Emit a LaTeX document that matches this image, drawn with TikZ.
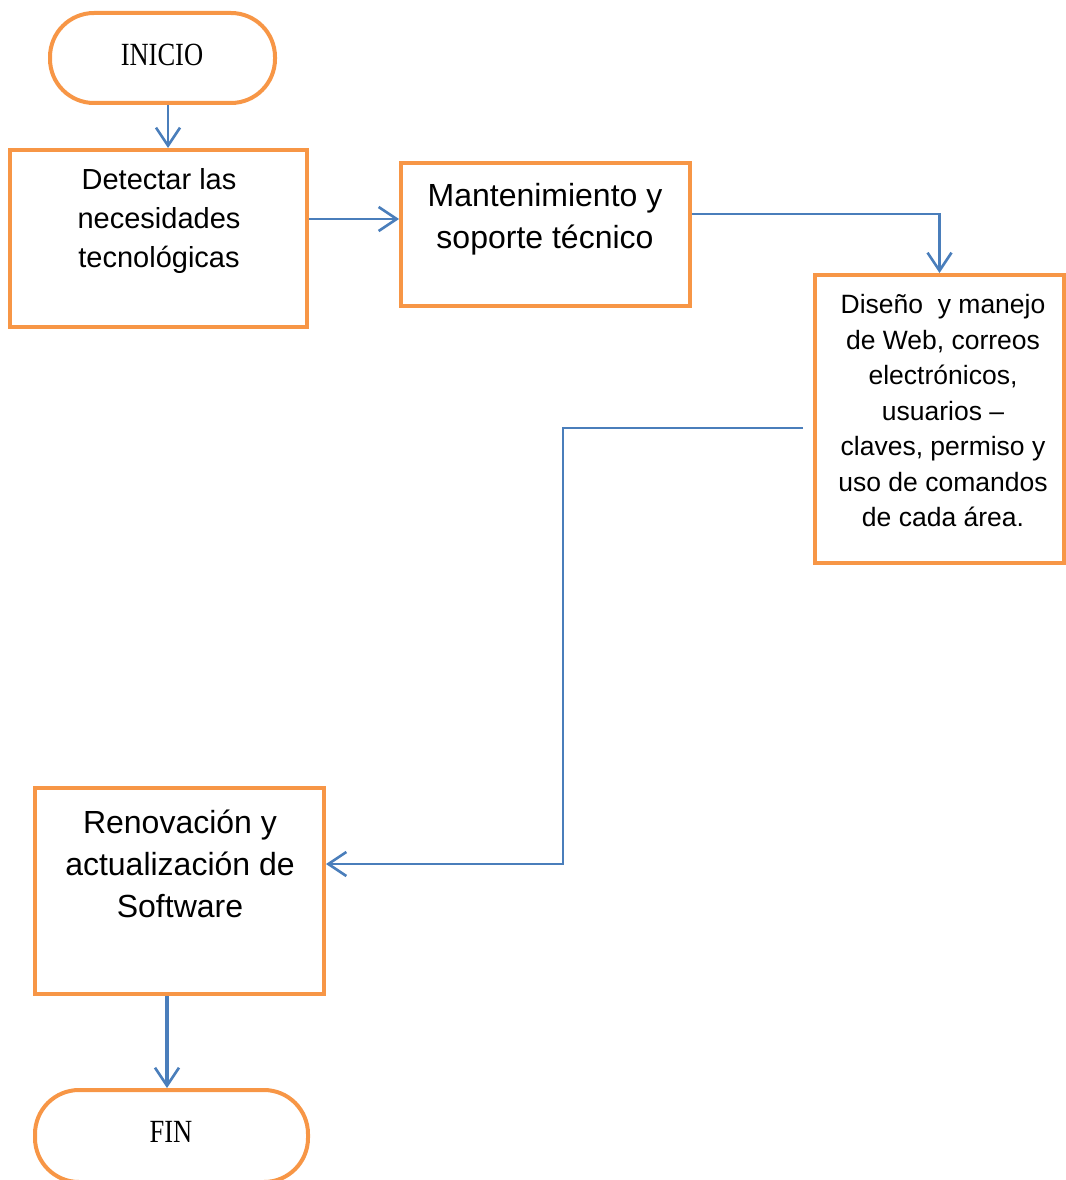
\documentclass[tikz,border=0pt]{standalone}
\usepackage{fontspec}
\setmainfont{Liberation Sans}
\newfontfamily\termfont{Liberation Serif}
\usetikzlibrary{arrows.meta}
\definecolor{boxorange}{HTML}{F79646}
\definecolor{flowblue}{HTML}{4A7EBB}
\begin{document}
\begin{tikzpicture}[x=1pt,y=-1pt,
  stepbox/.style={draw=boxorange, line width=4pt, rectangle, inner sep=0pt},
  terminal/.style={draw=boxorange, line width=4pt, rectangle, rounded corners=44pt, inner sep=0pt},
  arr/.style={draw=flowblue, line width=2.6pt, -{Straight Barb[length=18pt,width=24pt,line width=2.6pt]}},
  txt/.style={align=center, inner sep=0pt},
  termtxt/.style={inner sep=0pt, font=\termfont\fontsize{26.5}{30}\selectfont}
]
\useasboundingbox (0,0) rectangle (1065,1180);

% terminals and process boxes
\node[terminal, minimum width=225pt, minimum height=90pt] (inicio) at (162.5,58) {};
\node[stepbox, minimum width=297pt, minimum height=177pt] (detectar) at (158.5,238.5) {};
\node[stepbox, minimum width=289pt, minimum height=143pt] (mant) at (545.5,234.5) {};
\node[stepbox, minimum width=249pt, minimum height=288pt] (diseno) at (939.5,419) {};
\node[stepbox, minimum width=289pt, minimum height=206pt] (renov) at (179.5,891) {};
\node[terminal, minimum width=273pt, minimum height=92pt] (fin) at (171.5,1136) {};

% labels
\node[termtxt] (inicio-t) at (162,55) {\scalebox{1}[1.22]{INICIO}};
\node[txt, font=\fontsize{29}{39}\selectfont] (detectar-t) at (159,221) {Detectar las\\necesidades\\tecnológicas};
\node[txt, font=\fontsize{32}{42}\selectfont] (mant-t) at (545,219) {Mantenimiento y\\soporte técnico};
\node[txt, font=\fontsize{26.5}{35.5}\selectfont] (diseno-t) at (943,411) {Diseño\ \ y manejo\\de Web, correos\\electrónicos,\\usuarios –\\claves, permiso y\\uso de comandos\\de cada área.};
\node[txt, font=\fontsize{32}{42}\selectfont] (renov-t) at (180,864) {Renovación y\\actualización de\\Software};
\node[termtxt] (fin-t) at (171,1132) {\scalebox{1}[1.22]{FIN}};

% connectors
\draw[arr] ([xshift=5.5]inicio.south) -- ([xshift=5.5]inicio.south |- detectar.north);
\draw[arr] ([yshift=19.5]detectar.east) -- ([yshift=19.5]detectar.east -| mant.west);
\draw[arr] ([yshift=20.5]mant.east) -| (diseno.north);
\draw[arr] ([xshift=-10,yshift=-9]diseno.west) -- ++(-240,0) |- ([yshift=27]renov.east);
\draw[arr, line width=3.2pt] ([xshift=-12.5]renov.south) -- ([xshift=-12.5]renov.south |- fin.north);
\end{tikzpicture}
\end{document}
